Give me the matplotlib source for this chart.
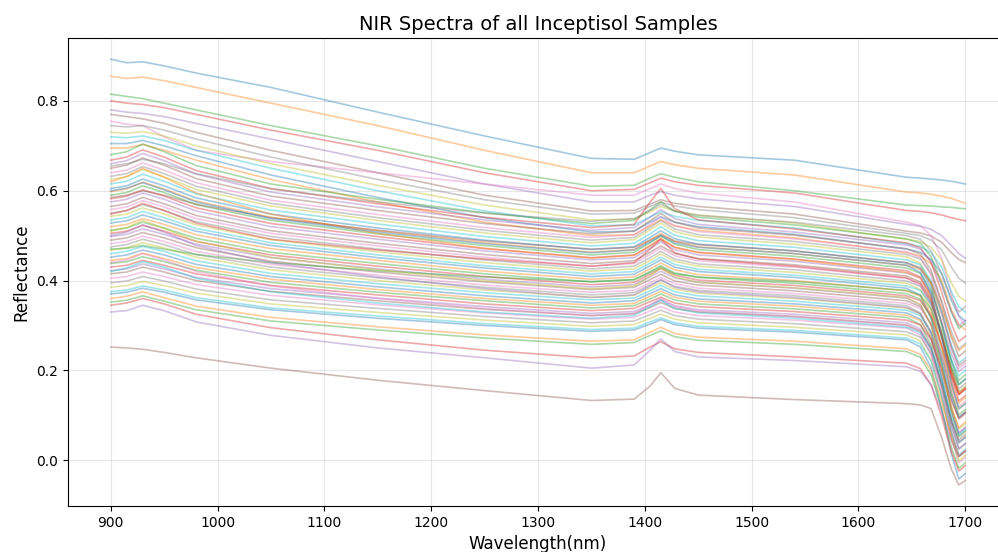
import matplotlib
matplotlib.use("Agg")
import matplotlib.pyplot as plt

wavelengths = [900, 915, 930, 950, 980, 1050, 1150, 1250, 1350, 1390, 1405,
               1415, 1428, 1450, 1540, 1645, 1658, 1668, 1678, 1687, 1694, 1700]

# bright samples (upper, sparse part of the plot)
upper_samples = [
    [.893, .885, .887, .878, .862, .830, .775, .722, .672, .670, .685, .695, .688, .680, .668, .630, .628, .626, .624, .621, .618, .615],
    [.855, .850, .853, .845, .830, .795, .745, .690, .640, .640, .655, .665, .658, .650, .635, .597, .595, .592, .588, .583, .577, .572],
    [.815, .810, .805, .795, .780, .745, .700, .650, .610, .612, .628, .638, .630, .620, .600, .568, .567, .566, .564, .563, .561, .560],
    [.800, .795, .792, .785, .770, .735, .690, .640, .600, .603, .618, .628, .620, .612, .595, .556, .554, .551, .546, .540, .536, .533],
    [.780, .775, .772, .765, .750, .715, .665, .615, .575, .575, .590, .598, .590, .582, .565, .525, .521, .514, .500, .478, .460, .450],
    [.770, .765, .760, .750, .730, .690, .640, .590, .555, .556, .570, .580, .572, .565, .548, .510, .506, .499, .485, .462, .447, .440],
    [.755, .748, .745, .720, .690, .665, .640, .615, .590, .590, .605, .615, .605, .595, .575, .530, .522, .500, .450, .370, .320, .300],
    [.745, .742, .745, .735, .715, .675, .625, .580, .548, .550, .565, .575, .566, .558, .540, .505, .500, .490, .468, .430, .405, .395],
    [.730, .728, .732, .722, .700, .660, .612, .568, .535, .537, .553, .565, .555, .546, .528, .492, .487, .474, .445, .395, .365, .355],
    [.720, .718, .722, .712, .690, .650, .600, .555, .522, .524, .542, .553, .543, .534, .517, .482, .476, .462, .430, .375, .342, .330],
    [.705, .705, .712, .700, .678, .635, .585, .540, .508, .510, .530, .542, .530, .520, .503, .470, .463, .447, .415, .355, .322, .310],
    [.695, .695, .703, .690, .668, .625, .575, .530, .500, .502, .522, .535, .522, .512, .495, .462, .455, .437, .400, .335, .302, .290],
]

# the dense band of typical samples
middle_samples = [
    [.680, .687, .704, .687, .656, .615, .581, .551, .527, .534, .558, .575, .554, .541, .524, .493, .483, .453, .393, .329, .293, .305],
    [.668, .675, .691, .675, .645, .605, .571, .541, .518, .525, .575, .605, .560, .535, .515, .484, .473, .440, .374, .304, .264, .276],
    [.660, .667, .683, .667, .637, .597, .564, .535, .512, .518, .541, .558, .538, .525, .508, .479, .470, .443, .389, .331, .299, .311],
    [.650, .657, .673, .657, .627, .588, .556, .527, .504, .510, .533, .549, .530, .517, .501, .471, .459, .423, .351, .274, .231, .243],
    [.640, .646, .662, .646, .618, .579, .547, .518, .496, .502, .525, .541, .522, .509, .493, .464, .451, .412, .334, .251, .204, .216],
    [.632, .638, .654, .638, .610, .572, .540, .512, .490, .496, .518, .534, .515, .502, .487, .458, .448, .416, .353, .286, .248, .260],
    [.625, .631, .647, .631, .603, .566, .534, .506, .484, .491, .513, .528, .509, .497, .481, .453, .438, .393, .303, .207, .153, .165],
    [.615, .621, .637, .621, .593, .557, .526, .498, .477, .483, .504, .520, .501, .489, .474, .446, .435, .400, .331, .257, .216, .228],
    [.605, .611, .626, .611, .584, .548, .517, .490, .469, .475, .496, .511, .493, .481, .466, .439, .426, .385, .304, .218, .169, .181],
    [.598, .604, .619, .604, .577, .541, .511, .484, .463, .469, .490, .505, .487, .475, .460, .434, .425, .396, .339, .278, .244, .256],
    [.590, .596, .611, .596, .569, .534, .504, .478, .457, .463, .484, .499, .481, .469, .454, .428, .416, .378, .303, .223, .178, .190],
    [.582, .588, .602, .588, .562, .527, .498, .471, .451, .457, .477, .492, .474, .463, .448, .422, .408, .364, .277, .184, .132, .144],
    [.575, .581, .595, .581, .555, .520, .492, .466, .446, .451, .472, .486, .469, .457, .443, .417, .406, .373, .307, .237, .197, .209],
    [.565, .571, .585, .571, .545, .511, .483, .458, .438, .444, .463, .477, .460, .449, .435, .410, .397, .358, .280, .197, .150, .162],
    [.558, .564, .578, .564, .538, .505, .477, .452, .432, .438, .458, .472, .455, .444, .430, .405, .390, .343, .250, .151, .095, .107],
    [.550, .556, .569, .556, .531, .498, .470, .446, .426, .432, .451, .465, .448, .437, .424, .399, .387, .351, .279, .202, .159, .171],
    [.543, .548, .562, .548, .524, .491, .464, .440, .421, .426, .445, .459, .443, .432, .418, .394, .380, .338, .254, .164, .114, .126],
    [.535, .540, .554, .540, .516, .484, .457, .433, .415, .420, .439, .452, .436, .425, .412, .388, .378, .348, .288, .224, .188, .200],
    [.528, .533, .546, .533, .510, .478, .451, .428, .409, .414, .433, .446, .430, .420, .407, .383, .367, .317, .218, .112, .053, .065],
    [.520, .525, .538, .525, .502, .471, .445, .421, .403, .408, .426, .439, .424, .413, .400, .377, .365, .327, .252, .172, .127, .139],
    [.512, .517, .530, .517, .494, .463, .438, .415, .397, .402, .420, .433, .417, .407, .394, .371, .358, .317, .236, .150, .101, .113],
    [.505, .510, .523, .510, .487, .457, .432, .409, .391, .396, .414, .427, .412, .401, .389, .366, .355, .322, .256, .186, .146, .158],
    [.498, .503, .515, .503, .481, .451, .426, .403, .386, .391, .408, .421, .406, .396, .383, .361, .346, .301, .211, .115, .061, .073],
    [.490, .495, .507, .495, .473, .443, .419, .397, .380, .385, .402, .414, .399, .390, .377, .355, .342, .303, .225, .142, .095, .107],
    [.482, .487, .499, .487, .465, .436, .412, .390, .374, .378, .395, .407, .393, .383, .371, .349, .338, .303, .234, .160, .119, .131],
    [.475, .480, .492, .480, .458, .430, .406, .385, .368, .373, .390, .401, .387, .378, .366, .344, .328, .280, .184, .082, .024, .036],
    [.468, .473, .484, .473, .452, .424, .400, .379, .363, .367, .384, .395, .381, .372, .360, .339, .326, .285, .204, .118, .069, .081],
    [.460, .465, .476, .465, .444, .416, .393, .373, .357, .361, .377, .389, .375, .366, .354, .334, .322, .286, .214, .137, .094, .106],
    [.452, .457, .468, .457, .436, .409, .386, .366, .350, .355, .371, .382, .368, .359, .348, .328, .314, .270, .183, .090, .038, .050],
    [.445, .449, .461, .449, .429, .403, .380, .360, .345, .349, .365, .376, .363, .354, .343, .323, .311, .273, .198, .118, .073, .085],
    [.438, .442, .453, .442, .423, .396, .374, .355, .339, .344, .359, .370, .357, .348, .337, .318, .302, .256, .163, .064, .008, .020],
    [.430, .434, .445, .434, .415, .389, .368, .348, .333, .338, .353, .363, .350, .342, .331, .312, .301, .268, .202, .132, .092, .104],
    [.422, .426, .437, .426, .407, .382, .361, .342, .327, .331, .346, .357, .344, .335, .325, .306, .292, .250, .166, .076, .026, .038],
    [.415, .419, .430, .419, .400, .376, .355, .336, .322, .326, .340, .351, .338, .330, .320, .301, .288, .249, .171, .088, .041, .053],
    [.405, .409, .419, .409, .391, .367, .346, .328, .314, .318, .332, .342, .330, .322, .312, .294, .279, .234, .144, .048, -.006, .006],
    [.395, .399, .409, .399, .381, .357, .338, .320, .306, .310, .324, .334, .322, .314, .304, .286, .274, .238, .166, .089, .046, .058],
    [.385, .389, .398, .389, .372, .348, .329, .312, .298, .302, .316, .325, .314, .306, .296, .279, .265, .223, .139, .049, -.001, .011],
    [.375, .379, .388, .379, .362, .339, .321, .304, .291, .294, .308, .317, .306, .298, .289, .272, .259, .220, .142, .059, .012, .024],
    [.370, .374, .383, .374, .357, .335, .316, .300, .287, .290, .303, .313, .302, .294, .285, .268, .252, .206, .113, .014, -.042, -.030],
]

# samples that cross the others (different slope or stronger bands)
crossing_samples = [
    [.620, .632, .650, .630, .595, .548, .505, .472, .450, .456, .478, .494, .474, .462, .447, .418, .405, .364, .283, .197, .148, .160],
    [.470, .472, .478, .470, .458, .440, .422, .408, .398, .402, .418, .430, .415, .408, .398, .378, .368, .336, .273, .206, .168, .180],
    [.548, .556, .572, .556, .528, .492, .468, .448, .432, .440, .470, .492, .462, .448, .432, .406, .393, .354, .276, .193, .146, .158],
    [.500, .508, .524, .508, .478, .440, .408, .382, .362, .368, .388, .402, .385, .375, .362, .340, .326, .284, .200, .110, .060, .072],
    [.585, .590, .600, .590, .570, .540, .512, .488, .470, .474, .490, .502, .488, .480, .466, .440, .429, .394, .325, .251, .210, .222],
    [.440, .446, .460, .446, .420, .388, .360, .338, .322, .327, .346, .360, .342, .332, .320, .300, .286, .242, .155, .062, .010, .022],
    [.655, .660, .670, .660, .638, .604, .575, .550, .532, .538, .556, .570, .555, .545, .530, .500, .492, .466, .415, .361, .330, .342],
    [.510, .518, .534, .516, .488, .452, .424, .400, .382, .388, .410, .428, .408, .396, .384, .362, .347, .300, .207, .108, .052, .064],
    [.420, .428, .442, .430, .405, .375, .350, .330, .316, .322, .342, .356, .338, .328, .316, .296, .284, .248, .176, .099, .056, .068],
    [.600, .606, .618, .602, .575, .538, .508, .482, .462, .468, .486, .500, .484, .474, .460, .434, .418, .370, .274, .172, .114, .126],
]

# dark samples (lower, sparse part of the plot)
lower_samples = [
    [.360, .365, .375, .362, .343, .318, .297, .279, .265, .268, .285, .296, .282, .274, .265, .248, .236, .200, .128, .051, .008, .020],
    [.352, .356, .366, .354, .335, .310, .290, .272, .258, .262, .278, .288, .275, .267, .258, .242, .229, .190, .112, .029, -.018, -.006],
    [.345, .350, .360, .348, .325, .295, .268, .245, .228, .232, .252, .264, .248, .240, .230, .216, .204, .168, .096, .019, -.024, -.012],
    [.330, .333, .345, .333, .308, .278, .250, .228, .205, .212, .245, .270, .242, .230, .222, .208, .198, .168, .108, .044, .008, .020],
    [.252, .250, .247, .240, .228, .205, .178, .155, .133, .136, .165, .195, .160, .145, .135, .126, .123, .115, .050, -.020, -.055, -.045],
]

fig = plt.figure(figsize=(9.98, 5.52), dpi=100)
ax = fig.add_axes([0.0681, 0.0833, 0.9419, 0.8478])

for group in (upper_samples, middle_samples, crossing_samples, lower_samples):
    for spectrum in group:
        ax.plot(wavelengths, spectrum, linewidth=1.2, alpha=0.4)

ax.set_xlim(860, 1740)
ax.set_ylim(-0.102, 0.94)
ax.set_xticks([900, 1000, 1100, 1200, 1300, 1400, 1500, 1600, 1700])
ax.set_yticks([0.0, 0.2, 0.4, 0.6, 0.8])
ax.spines["right"].set_visible(False)
ax.set_xlabel("Wavelength(nm)", fontsize=12)
ax.set_ylabel("Reflectance", fontsize=12)
ax.set_title("NIR Spectra of all Inceptisol Samples", fontsize=14)
ax.grid(True, alpha=0.3)

fig.savefig("out.png", dpi=100)
